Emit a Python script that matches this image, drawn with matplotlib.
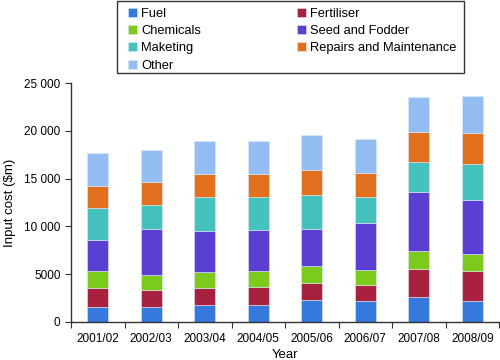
import matplotlib
matplotlib.use('Agg')
import matplotlib.pyplot as plt
import numpy as np
from matplotlib.patches import Rectangle
from matplotlib.ticker import FuncFormatter

plt.rcParams['font.family'] = ['Liberation Sans', 'DejaVu Sans']

years = ['2001/02', '2002/03', '2003/04', '2004/05', '2005/06', '2006/07', '2007/08', '2008/09']

# input costs by category ($m), stacked bottom to top
fuel = [1570, 1510, 1720, 1780, 2240, 2200, 2550, 2170]
fertiliser = [1990, 1840, 1810, 1850, 1810, 1640, 2970, 3170]
chemicals = [1780, 1510, 1640, 1710, 1780, 1570, 1880, 1780]
seed = [3220, 4880, 4330, 4230, 3850, 4920, 6180, 5590]
maketing = [3390, 2450, 3560, 3460, 3590, 2730, 3210, 3800]
repairs = [2300, 2410, 2440, 2470, 2610, 2480, 3110, 3320]
other = [3390, 3350, 3390, 3490, 3670, 3560, 3660, 3840]

series = [
    ('Fuel', fuel, '#3579dd'),
    ('Fertiliser', fertiliser, '#a8223f'),
    ('Chemicals', chemicals, '#7ccb1c'),
    ('Seed and Fodder', seed, '#5a3fd2'),
    ('Maketing', maketing, '#45c1be'),
    ('Repairs and Maintenance', repairs, '#e2711f'),
    ('Other', other, '#94bdf4'),
]

fig = plt.figure(figsize=(5, 3.6), dpi=100)
ax = fig.add_axes([0.142, 0.106, 0.856, 0.663])

x = np.arange(len(years))
bottom = np.zeros(len(years))
bars = {}
for name, vals, col in series:
    bars[name] = ax.bar(x, vals, width=0.4, bottom=bottom, color=col,
                        edgecolor='#dce8f8', linewidth=0.4, label=name)
    bottom += np.array(vals)

ax.set_xlim(-0.5, 7.5)
ax.set_ylim(0, 25000)
ax.set_xticks(np.arange(-0.5, 8, 1))
ax.set_xticklabels([])
ax.set_xticks(x, minor=True)
ax.set_xticklabels(years, minor=True, fontsize=8.5)
ax.tick_params(axis='x', which='minor', length=0, pad=8)
ax.tick_params(axis='x', which='major', length=4, direction='out', color='#333333')
ax.set_yticks([0, 5000, 10000, 15000, 20000, 25000])
ax.yaxis.set_major_formatter(FuncFormatter(
    lambda v, p: f'{int(v):,}'.replace(',', ' ') if v >= 10000 else f'{int(v)}'))
ax.tick_params(axis='y', length=4, direction='out', labelsize=8.5, color='#333333')
for s in ['top', 'right']:
    ax.spines[s].set_visible(False)
for s in ['left', 'bottom']:
    ax.spines[s].set_color('#333333')
    ax.spines[s].set_linewidth(1.0)

ax.set_xlabel('Year', fontsize=9.5, labelpad=3)
ax.set_ylabel('Input cost ($m)', fontsize=9.5, labelpad=6)

# legend box drawn separately so the inner padding can be set freely
fig.patches.append(Rectangle((0.234, 0.797), 0.694, 0.2, transform=fig.transFigure,
                             fill=False, edgecolor='#333333', linewidth=1.0))
order = ['Fuel', 'Chemicals', 'Maketing', 'Other', 'Fertiliser', 'Seed and Fodder', 'Repairs and Maintenance']
handles = [bars[n] for n in order]
fig.legend(handles, order, loc='upper left', ncol=2,
           bbox_to_anchor=(0.256, 0.977), fontsize=9.3,
           frameon=False, borderaxespad=0, borderpad=0,
           handlelength=0.7, handleheight=0.7, handletextpad=0.3,
           labelspacing=0.39, columnspacing=7.45)

fig.savefig('out.png', dpi=100)
